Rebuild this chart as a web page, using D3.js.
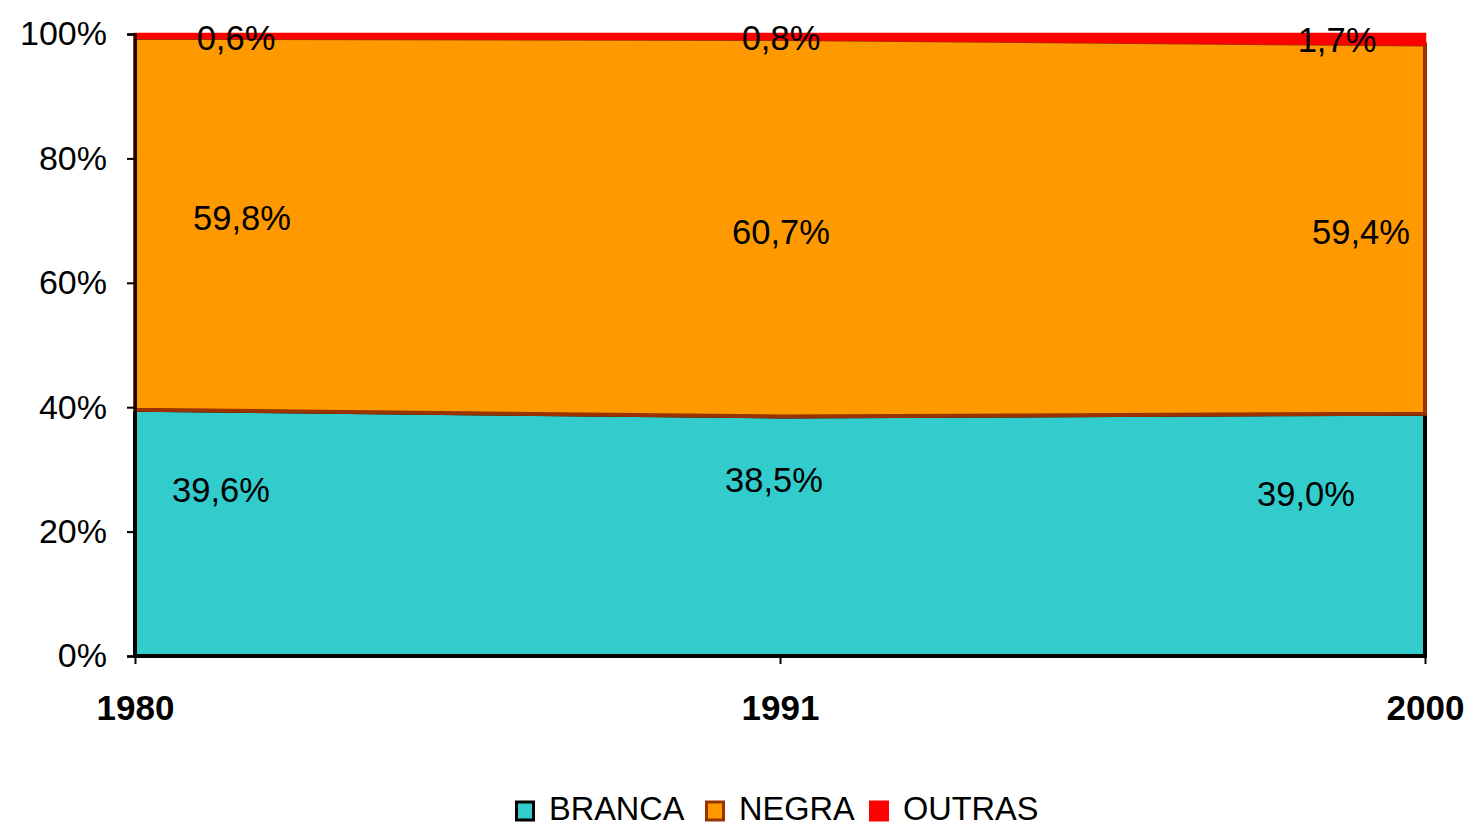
<!DOCTYPE html>
<html><head><meta charset="utf-8">
<script src="https://cdn.jsdelivr.net/npm/d3@7"></script>
<style>body{margin:0;background:#fff}svg{display:block;font-family:"Liberation Sans",Arial,sans-serif}</style>
</head><body><svg id="c" width="1473" height="827"></svg>
<script>
const years = [1980, 1991, 2000];
const branca = [39.6, 38.5, 39.0];
const negra = [59.8, 60.7, 59.4];
const outras = [0.6, 0.8, 1.7];
const seriesNames = ["BRANCA", "NEGRA", "OUTRAS"];
const yTicks = [0, 20, 40, 60, 80, 100];
const colors = ["#33CCCC", "#FF9900", "#FF0000"];
const borders = ["#000000", "#993300", "#FF0000"];
// label layout (pixel offset from year position, y in percent units)
const labelDx = [[86, -6, -119], [107, 1, -64], [101, 1, -88]];
const labelY = [[26.7, 28.3, 26.0], [70.4, 68.2, 68.2], [99.4, 99.4, 99.0]];

const svg = d3.select("#c");
const x = d3.scalePoint().domain(years).range([135, 1425]);
const y = d3.scaleLinear().domain([0, 100]).range([656, 34]);

const rows = years.map((yr, i) => ({year: yr, BRANCA: branca[i], NEGRA: negra[i], OUTRAS: outras[i]}));
const stack = d3.stack().keys(seriesNames).offset(d3.stackOffsetExpand);
const layers = stack(rows);

const area = d3.area().x(d => x(d.data.year)).y0(d => y(d[0]*100)).y1(d => y(d[1]*100));
svg.selectAll("path.layer").data(layers).join("path")
  .attr("class", "layer")
  .attr("d", area)
  .attr("fill", (d, i) => colors[i])
  .attr("stroke", (d, i) => borders[i])
  .attr("stroke-width", (d, i) => i === 2 ? 2.5 : 4)
  .attr("stroke-linejoin", "miter");

// axes
const yAxis = d3.axisLeft(y).tickValues(yTicks).tickFormat(d => d + "%").tickSize(8).tickPadding(20);
const gy = svg.append("g").attr("transform", "translate(135,0)").call(yAxis);
gy.select(".domain").attr("stroke", "#000").attr("stroke-width", 2.5);
gy.selectAll(".tick line").attr("stroke", "#000").attr("stroke-width", 2);
gy.selectAll(".tick text").attr("font-size", 34).attr("fill", "#000")
  .attr("font-family", "'Liberation Sans', Arial, sans-serif").attr("dx", 0);

const xAxis = d3.axisBottom(x).tickSize(8).tickPadding(44);
const gx = svg.append("g").attr("transform", "translate(0,656)").call(xAxis);
gx.select(".domain").attr("stroke", "#000").attr("stroke-width", 3).attr("d", "M135,0H1425");
gx.selectAll(".tick line").attr("stroke", "#000").attr("stroke-width", 2);
gx.selectAll(".tick text").attr("font-size", 35).attr("font-weight", "bold").attr("fill", "#000")
  .attr("font-family", "'Liberation Sans', Arial, sans-serif").attr("dy", "0.35em");

// data labels
const fmt = v => v.toFixed(1).replace(".", ",") + "%";
const vals = [branca, negra, outras];
vals.forEach((arr, s) => {
  svg.append("g").selectAll("text").data(arr).join("text")
    .attr("x", (d, i) => x(years[i]) + labelDx[s][i])
    .attr("y", (d, i) => y(labelY[s][i]))
    .attr("dy", "0.35em")
    .attr("text-anchor", "middle")
    .attr("font-size", 34.5)
    .attr("fill", "#000")
    .text(d => fmt(d));
});

// legend
const legendX = [515, 705, 869];
const lg = svg.append("g");
seriesNames.forEach((n, i) => {
  lg.append("rect").attr("x", legendX[i] + 1.5).attr("y", 802).attr("width", 17).attr("height", 18)
    .attr("fill", colors[i]).attr("stroke", i === 2 ? "#FF0000" : borders[i]).attr("stroke-width", 3);
  lg.append("text").attr("x", legendX[i] + 34).attr("y", 820)
    .attr("font-size", 32.5).attr("fill", "#000").text(n);
});
</script></body></html>
